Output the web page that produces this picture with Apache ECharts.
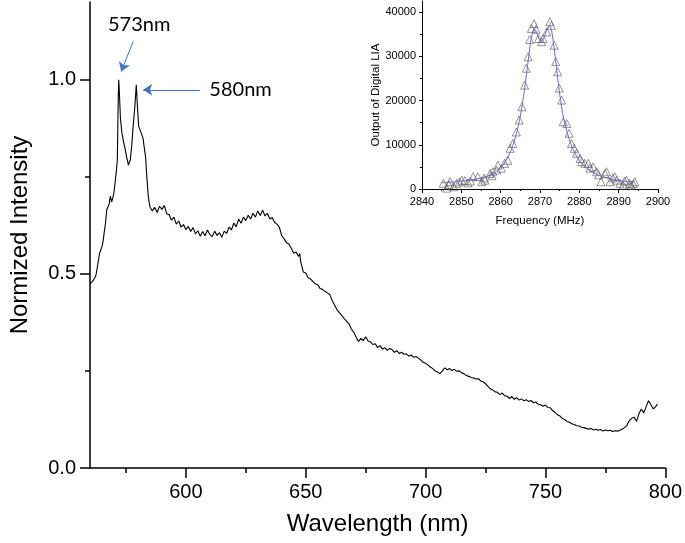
<!DOCTYPE html>
<html>
<head>
<meta charset="utf-8">
<script src="https://cdn.jsdelivr.net/npm/echarts@6/dist/echarts.min.js"></script>
<style>
    html, body, #main {
        width: 100%;
        height: 100%;
        margin: 0;
        background: #fff;
    }
</style>
</head>
<body>
<div id="main"></div>
<script>
// PL spectrum, [wavelength nm, normalized intensity]
var spectrum = [
    [560, 0.475], [560.5, 0.472], [561, 0.48], [561.5, 0.478], [562, 0.49], [562.5, 0.497],
    [563, 0.515], [563.5, 0.51], [564, 0.553], [564.5, 0.548], [565, 0.57], [565.5, 0.585],
    [566, 0.61], [566.5, 0.632], [567, 0.665], [567.5, 0.66], [568, 0.68], [568.5, 0.70],
    [569, 0.685], [569.5, 0.695], [570, 0.71], [570.5, 0.737], [571, 0.765], [571.4, 0.793],
    [571.8, 0.96], [572, 1.0], [572.3, 0.96], [572.7, 0.9], [573.3, 0.863], [574, 0.84],
    [574.7, 0.82], [575.3, 0.80], [575.7, 0.79], [576, 0.78], [576.4, 0.785], [576.8, 0.793],
    [577.4, 0.83], [578, 0.88], [578.7, 0.93], [579.3, 0.987], [579.8, 0.93], [580.3, 0.88],
    [580.8, 0.872], [581.2, 0.865], [581.6, 0.868], [582.1, 0.85], [582.6, 0.845], [583.2, 0.80],
    [583.7, 0.75], [584.3, 0.70],
    [585, 0.672], [586, 0.662], [587, 0.671], [588, 0.658], [589, 0.674], [590, 0.666],
    [591, 0.676], [592, 0.655], [593, 0.652], [594, 0.638], [595, 0.646], [596, 0.628],
    [597, 0.636], [598, 0.62], [599, 0.627], [600, 0.614], [601, 0.622], [602, 0.609],
    [603, 0.619], [604, 0.603], [605, 0.611], [606, 0.597], [607, 0.609], [608, 0.598],
    [609, 0.613], [610, 0.601], [611, 0.596], [612, 0.61], [613, 0.599], [614, 0.606],
    [615, 0.594], [616, 0.61], [617, 0.604], [618, 0.62], [619, 0.613], [620, 0.631],
    [621, 0.621], [622, 0.641], [623, 0.63], [624, 0.646], [625, 0.637], [626, 0.651],
    [627, 0.641], [628, 0.656], [629, 0.646], [630, 0.662], [631, 0.65], [632, 0.664],
    [633, 0.649], [634, 0.656], [635, 0.641], [636, 0.645], [637, 0.632], [638, 0.628],
    [639, 0.62], [640, 0.598], [641, 0.59], [642, 0.58], [643, 0.577], [644, 0.565],
    [645, 0.553], [646, 0.556], [647, 0.545], [647.5, 0.552], [648, 0.528], [649, 0.505],
    [650, 0.502], [651, 0.49], [652, 0.487], [653, 0.48], [654, 0.474], [655, 0.472],
    [656, 0.462], [657, 0.46], [658, 0.455], [659, 0.451], [660, 0.447], [661, 0.432],
    [662, 0.42], [663, 0.408], [664, 0.4], [665, 0.393], [666, 0.385], [667, 0.378],
    [668, 0.372], [669, 0.358], [670, 0.35], [671, 0.337], [672, 0.326], [673, 0.334],
    [674, 0.328], [675, 0.338], [676, 0.327], [677, 0.325], [678, 0.318], [679, 0.32],
    [680, 0.31], [681, 0.315], [682, 0.306], [683, 0.31], [684, 0.303], [685, 0.308],
    [686, 0.305], [687, 0.298], [688, 0.302], [689, 0.295], [690, 0.298], [691, 0.293],
    [692, 0.294], [693, 0.288], [694, 0.291], [695, 0.285], [696, 0.287], [697, 0.283],
    [698, 0.278], [699, 0.272], [700, 0.27], [701, 0.265], [702, 0.26], [703, 0.256],
    [704, 0.25], [705, 0.247], [706, 0.243], [707, 0.25], [708, 0.258], [709, 0.253],
    [710, 0.256], [711, 0.251], [712, 0.254], [713, 0.249], [714, 0.25], [715, 0.245],
    [716, 0.243], [717, 0.238], [718, 0.236], [719, 0.233], [720, 0.232], [721, 0.229],
    [722, 0.23], [723, 0.224], [724, 0.222], [725, 0.217], [726, 0.21], [727, 0.204],
    [728, 0.201], [729, 0.196], [730, 0.195], [731, 0.189], [732, 0.193], [733, 0.186],
    [734, 0.185], [735, 0.179], [736, 0.184], [737, 0.177], [738, 0.181], [739, 0.175],
    [740, 0.178], [741, 0.173], [742, 0.176], [743, 0.171], [744, 0.174], [745, 0.168],
    [746, 0.17], [747, 0.164], [748, 0.163], [749, 0.159], [750, 0.162], [751, 0.156],
    [752, 0.155], [753, 0.148], [754, 0.143], [755, 0.137], [756, 0.134], [757, 0.128],
    [758, 0.125], [759, 0.12], [760, 0.118], [761, 0.114], [762, 0.112], [763, 0.109],
    [764, 0.108], [765, 0.105], [766, 0.104], [767, 0.102], [768, 0.1], [769, 0.102],
    [770, 0.098], [771, 0.1], [772, 0.097], [773, 0.099], [774, 0.095], [775, 0.098],
    [776, 0.096], [777, 0.097], [778, 0.094], [779, 0.096], [780, 0.095], [781, 0.097],
    [782, 0.1], [783, 0.104], [784, 0.11], [785, 0.122], [786, 0.128], [787, 0.131],
    [788, 0.12], [789, 0.14], [790, 0.152], [791, 0.142], [792, 0.158], [793, 0.173],
    [794, 0.163], [795, 0.152], [795.5, 0.147], [796, 0.158], [796.7, 0.165]
];

// inset: lock-in output vs microwave frequency (MHz)
var lockinPoints = [
    [2845.4, 1300], [2846.3, 200], [2846.8, 1000], [2847.1, 1650], [2848, 500], [2848.8, 1300],
    [2849.5, 1600], [2850.1, 2000], [2850.9, 1900], [2851.7, 1400], [2852.3, 1800], [2853, 2800],
    [2854.2, 2800], [2855.2, 1650], [2855.8, 2500], [2856, 2000], [2857.3, 3500], [2857.8, 3000],
    [2858, 3900], [2859, 4300], [2859.3, 5400], [2860.2, 4700], [2861, 5800], [2861.8, 6500],
    [2862.4, 9200], [2863.1, 10300], [2864, 12900], [2864.7, 15600], [2865.4, 18600], [2866.1, 23500],
    [2866.5, 27300], [2867, 29900], [2867.4, 33800], [2867.8, 36300], [2868.5, 37400], [2869, 36100],
    [2869.6, 34000], [2870.4, 33300], [2870.8, 34000], [2871.7, 35500], [2872.5, 37800], [2872.9, 37000],
    [2873.6, 32500], [2874, 28800], [2874.5, 26500], [2874.9, 22800], [2875.5, 20100], [2875.9, 15200],
    [2876.8, 14800], [2877.4, 12600], [2878, 10300], [2878.7, 9200], [2879.3, 8100], [2880.2, 6900],
    [2880.6, 6200], [2881.4, 5800], [2882.3, 5800], [2882.7, 4700], [2883.5, 5000], [2884.4, 3900],
    [2884.9, 3200], [2885.5, 1650], [2886.5, 3500], [2886.9, 3900], [2887.8, 1650], [2888.5, 2500],
    [2889, 2800], [2889.5, 2000], [2890.3, 1300], [2891.1, 900], [2891.5, 1800], [2892, 2000],
    [2892.8, 1300], [2893.2, 900], [2893.7, 1200], [2894.1, 1650]
];

var lockinFit = [
    [2845, 1400], [2848, 1600], [2851, 1900], [2854, 2300], [2856, 2700], [2858, 3400],
    [2859, 4000], [2860, 4800], [2861, 5900], [2862, 7500], [2863, 9600], [2864, 12500],
    [2865, 16500], [2866, 22000], [2866.5, 25500], [2867, 29000], [2867.5, 32500], [2868, 35000],
    [2868.5, 36200], [2869, 35700], [2869.5, 34500], [2870, 33500], [2870.5, 33400], [2871, 34200],
    [2871.5, 35500], [2872, 36500], [2872.5, 36800], [2873, 35500], [2873.5, 32500], [2874, 29000],
    [2874.5, 25000], [2875, 21500], [2875.5, 18500], [2876, 16000], [2877, 12500], [2878, 9800],
    [2879, 7900], [2880, 6400], [2881, 5400], [2882, 4600], [2883, 4000], [2885, 3100],
    [2887, 2500], [2889, 2100], [2891, 1800], [2894, 1500]
];

var wlMajor = [600, 650, 700, 750, 800];
var wlMinor = [575, 625, 675, 725, 775];
var intMajor = [0, 0.5, 1.0];
var intMinor = [0.25, 0.75];
var lockinMajor = [0, 10000, 20000, 30000, 40000];
var lockinMinor = [5000, 15000, 25000, 35000];

var chart = echarts.init(document.getElementById('main'));
var font = '"Liberation Sans", Arial, sans-serif';
var noteBlue = '#4472c4';
var plain = function (v) { return String(v); };

chart.setOption({
    animation: false,
    backgroundColor: '#fff',
    grid: [
        {left: 89, right: 17, top: 2, bottom: 75},
        {left: 422, top: 1, width: 236, height: 188}
    ],
    xAxis: [
        {
            gridIndex: 0, type: 'value', min: 560, max: 800, position: 'bottom',
            name: 'Wavelength (nm)', nameLocation: 'middle', nameGap: 44,
            nameTextStyle: {fontSize: 24, color: '#000', fontFamily: font},
            axisLine: {lineStyle: {color: '#000', width: 1.5}},
            axisTick: {customValues: wlMajor, length: 10, lineStyle: {width: 1.5}},
            axisLabel: {customValues: wlMajor, fontSize: 20, color: '#000', margin: 14, fontFamily: font, formatter: plain},
            splitLine: {show: false}
        },
        {
            gridIndex: 0, type: 'value', min: 560, max: 800, position: 'bottom',
            axisLine: {show: false},
            axisTick: {customValues: wlMinor, length: 5, lineStyle: {color: '#000', width: 1.5}},
            axisLabel: {show: false},
            splitLine: {show: false}
        },
        {
            gridIndex: 1, type: 'value', min: 2840, max: 2900, interval: 10, position: 'bottom',
            name: 'Frequency (MHz)', nameLocation: 'middle', nameGap: 26,
            nameTextStyle: {fontSize: 11.5, color: '#000', fontFamily: font},
            axisLine: {lineStyle: {color: '#000', width: 1}},
            axisTick: {length: 4},
            minorTick: {show: true, splitNumber: 2, length: 2, lineStyle: {color: '#000'}},
            axisLabel: {fontSize: 11, color: '#000', margin: 7, fontFamily: font, formatter: plain},
            splitLine: {show: false}
        }
    ],
    yAxis: [
        {
            gridIndex: 0, type: 'value', min: 0, max: 1.2, position: 'left',
            name: 'Normized Intensity', nameLocation: 'middle', nameGap: 58,
            nameTextStyle: {fontSize: 24, color: '#000', fontFamily: font},
            axisLine: {show: true, lineStyle: {color: '#000', width: 1.5}},
            axisTick: {show: true, customValues: intMajor, length: 10, lineStyle: {width: 1.5}},
            axisLabel: {
                customValues: intMajor, fontSize: 20, color: '#000', margin: 14, fontFamily: font,
                formatter: function (v) { return v.toFixed(1); }
            },
            splitLine: {show: false}
        },
        {
            gridIndex: 0, type: 'value', min: 0, max: 1.2, position: 'left',
            axisLine: {show: false},
            axisTick: {show: true, customValues: intMinor, length: 5, lineStyle: {color: '#000', width: 1.5}},
            axisLabel: {show: false},
            splitLine: {show: false}
        },
        {
            gridIndex: 1, type: 'value', min: 0, max: 42500, position: 'left',
            name: 'Output of Digital LIA', nameLocation: 'middle', nameGap: 36,
            nameTextStyle: {fontSize: 11.5, color: '#000', fontFamily: font},
            axisLine: {show: true, lineStyle: {color: '#000', width: 1}},
            axisTick: {show: true, customValues: lockinMajor, length: 3},
            axisLabel: {customValues: lockinMajor, fontSize: 11, color: '#000', margin: 6, fontFamily: font, formatter: plain},
            splitLine: {show: false}
        },
        {
            gridIndex: 1, type: 'value', min: 0, max: 42500, position: 'left',
            axisLine: {show: false},
            axisTick: {show: true, customValues: lockinMinor, length: 2, lineStyle: {color: '#000'}},
            axisLabel: {show: false},
            splitLine: {show: false}
        }
    ],
    series: [
        {
            type: 'line',
            xAxisIndex: 0,
            yAxisIndex: 0,
            data: spectrum,
            showSymbol: false,
            symbol: 'none',
            lineStyle: {color: '#000', width: 1.1},
            markLine: {
                silent: true,
                symbol: ['none', 'arrow'],
                symbolSize: 9,
                label: {show: false},
                lineStyle: {color: noteBlue, width: 1, type: 'solid'},
                data: [
                    [{coord: [578.0, 1.098]}, {coord: [573.0, 1.021]}],
                    [{coord: [605.8, 0.974]}, {coord: [582.2, 0.974]}]
                ]
            },
            markPoint: {
                silent: true,
                symbol: 'circle',
                symbolSize: 0,
                label: {show: true, position: 'inside', color: '#000', fontSize: 20, fontFamily: 'Lato, "Open Sans", sans-serif'},
                data: [
                    {coord: [580.5, 1.142], value: '573nm', label: {formatter: '573nm'}},
                    {coord: [622.8, 0.974], value: '580nm', label: {formatter: '580nm'}}
                ]
            }
        },
        {
            type: 'line',
            xAxisIndex: 2,
            yAxisIndex: 2,
            data: lockinFit,
            smooth: 0.3,
            showSymbol: false,
            symbol: 'none',
            lineStyle: {color: '#6a6ad8', width: 1}
        },
        {
            type: 'scatter',
            xAxisIndex: 2,
            yAxisIndex: 2,
            data: lockinPoints,
            symbol: 'triangle',
            symbolSize: 8,
            itemStyle: {color: 'rgba(255,255,255,0)', borderColor: '#555', borderWidth: 0.8}
        }
    ]
});
</script>
</body>
</html>
